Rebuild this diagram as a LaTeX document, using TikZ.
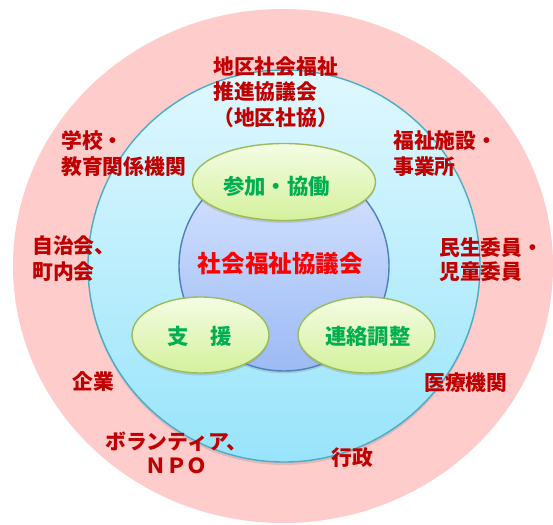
\documentclass[tikz,border=0pt]{standalone}
\usepackage{fontspec}
\newfontfamily\jp{Noto Sans CJK JP}
\usetikzlibrary{shadows}
\definecolor{pinkbg}{HTML}{FFCCCC}
\definecolor{cyantop}{HTML}{E0F8FE}
\definecolor{cyanbot}{HTML}{98E4FB}
\definecolor{cyanline}{HTML}{4BACC6}
\definecolor{bluetop}{HTML}{D8E5FF}
\definecolor{bluebot}{HTML}{9CBAF5}
\definecolor{blueline}{HTML}{4F7FBD}
\definecolor{greentop}{HTML}{F4FCE4}
\definecolor{greenbot}{HTML}{D4F19C}
\definecolor{greenline}{HTML}{9BBB59}
\definecolor{darkred}{HTML}{C00000}
\definecolor{brightred}{HTML}{FF0000}
\definecolor{textgreen}{HTML}{00B050}
\tikzset{
  lbl/.style={font=\jp\bfseries\fontsize{20.8}{25.5}\selectfont, text=darkred, align=left, inner sep=0pt, anchor=base west},
  tightlbl/.style={lbl, font=\jp\bfseries\fontsize{20.8}{23.5}\selectfont},
  actlbl/.style={font=\jp\bfseries\fontsize{21.4}{25}\selectfont, text=textgreen, inner sep=0pt, anchor=base},
  actshape/.style={top color=greentop, bottom color=greenbot, draw=greenline, line width=1.4pt,
    drop shadow={shadow xshift=0pt, shadow yshift=-2.5pt, opacity=0.25}},
}
\begin{document}
\begin{tikzpicture}[x=1pt,y=-1pt]
\useasboundingbox (0,0) rectangle (553,524);
% outer ring
\fill[pinkbg] (283,266) ellipse [x radius=270pt, y radius=257pt];
% middle circle
\path[top color=cyantop, bottom color=cyanbot, draw=cyanline, line width=1.4pt,
  drop shadow={shadow xshift=0pt, shadow yshift=-3pt, opacity=0.25}]
  (284,266) circle [radius=196pt];
% inner circle
\path[top color=bluetop, bottom color=bluebot, draw=blueline, line width=1.4pt,
  drop shadow={shadow xshift=0pt, shadow yshift=-2.5pt, opacity=0.25}]
  (284,266) circle [radius=105pt];
% activity ellipses
\path[actshape] (284,182) ellipse [x radius=91.5pt, y radius=38.5pt];
\path[actshape] (200.5,335) ellipse [x radius=68.5pt, y radius=38pt];
\path[actshape] (366.5,335) ellipse [x radius=68.5pt, y radius=38pt];
% centre text
\node[font=\jp\bfseries\fontsize{23.6}{28}\selectfont, text=brightred, inner sep=0pt, anchor=base] (shakyo) at (280.5,272) {社会福祉協議会};
\node[actlbl] (sanka) at (276.5,194) {参加・協働};
\node[actlbl] (shien) at (200,344) {支　援};
\node[actlbl] (renraku) at (367.8,344) {連絡調整};
% outer labels (base anchor = baseline of last line)
\node[lbl] (chiku) at (213,125) {地区社会福祉\\推進協議会\\（地区社協）};
\node[lbl] (gakko) at (61,174) {学校・\\教育関係機関};
\node[lbl] (fukushi) at (393,174) {福祉施設・\\事業所};
\node[lbl] (jichi) at (32,279) {自治会、\\町内会};
\node[tightlbl] (minsei) at (439,279) {民生委員・\\児童委員};
\node[lbl] (kigyo) at (72,389) {企業};
\node[lbl] (iryo) at (424,390) {医療機関};
\node[tightlbl, align=center, anchor=base] (vol) at (176.5,473) {ボランティア、\\ＮＰＯ};
\node[lbl] (gyosei) at (331,465) {行政};
\end{tikzpicture}
\end{document}
